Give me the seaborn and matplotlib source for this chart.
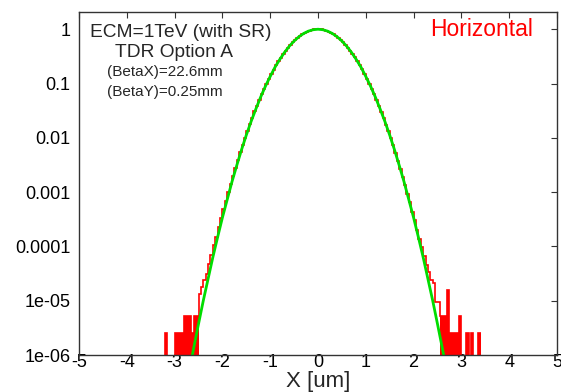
import numpy as np
import seaborn as sns
import matplotlib.pyplot as plt
from matplotlib.ticker import FixedLocator, FuncFormatter, NullLocator

# histogram of the beam profile (bin width 0.05 um), log10 of normalised counts
# -9 marks an empty bin
BIN_START = -3.30
BIN_WIDTH = 0.05
red_log = [
    -9, -9, -5.59, -9, -9, -9, -5.59, -5.59, -5.59, -5.59,
    -5.29, -5.29, -5.29, -5.59, -5.29, -5.29, -4.88, -4.75, -4.62, -4.50,
    -4.33, -4.15, -3.98, -3.82, -3.64, -3.48, -3.32, -3.16, -3.00, -2.85,
    -2.70, -2.55, -2.41, -2.27, -2.13, -2.00, -1.87, -1.75, -1.63, -1.515,
    -1.405, -1.30, -1.195, -1.097, -1.003, -0.912, -0.825, -0.742, -0.664, -0.590,
    -0.521, -0.456, -0.396, -0.339, -0.287, -0.239, -0.196, -0.157, -0.122, -0.092,
    -0.066, -0.044, -0.027, -0.014, -0.005, -0.001, 0.000, -0.005, -0.013, -0.027,
    -0.044, -0.066, -0.091, -0.122, -0.157, -0.195, -0.238, -0.286, -0.338, -0.395,
    -0.456, -0.520, -0.590, -0.663, -0.741, -0.824, -0.911, -1.002, -1.097, -1.196,
    -1.300, -1.408, -1.518, -1.635, -1.755, -1.88, -2.01, -2.14, -2.28, -2.42,
    -2.57, -2.72, -2.87, -3.03, -3.19, -3.36, -3.52, -3.69, -3.87, -4.02,
    -4.18, -4.35, -4.48, -4.62, -4.68, -5.02, -5.02, -5.29, -5.29, -5.29,
    -4.80, -5.59, -5.59, -5.59, -5.59, -5.29, -9, -9, -5.59, -9,
    -5.59, -9, -9, -5.59,
]

# gaussian fit
fit_x = [-2.7, -2.6, -2.5, -2.4, -2.3, -2.2, -2.1, -2.0, -1.9, -1.8,
         -1.7, -1.6, -1.5, -1.4, -1.3, -1.2, -1.1, -1.0, -0.9, -0.8,
         -0.7, -0.6, -0.5, -0.4, -0.3, -0.2, -0.1, 0.0, 0.1, 0.2,
         0.3, 0.4, 0.5, 0.6, 0.7, 0.8, 0.9, 1.0, 1.1, 1.2,
         1.3, 1.4, 1.5, 1.6, 1.7, 1.8, 1.9, 2.0, 2.1, 2.2,
         2.3, 2.4, 2.5, 2.6, 2.7]
fit_log = [-6.33, -5.87, -5.43, -5.00, -4.60, -4.20, -3.83, -3.47, -3.14, -2.81,
           -2.51, -2.22, -1.95, -1.70, -1.47, -1.25, -1.05, -0.87, -0.70, -0.556,
           -0.426, -0.313, -0.217, -0.139, -0.078, -0.035, -0.009, 0.0, -0.009, -0.035,
           -0.078, -0.139, -0.217, -0.313, -0.426, -0.556, -0.70, -0.87, -1.05, -1.25,
           -1.47, -1.70, -1.95, -2.22, -2.51, -2.81, -3.14, -3.47, -3.83, -4.20,
           -4.60, -5.00, -5.43, -5.87, -6.33]

x_ticks = [-5, -4, -3, -2, -1, 0, 1, 2, 3, 4, 5]
y_ticks = [1e-6, 1e-5, 1e-4, 1e-3, 1e-2, 1e-1, 1]

sns.set_theme(style="white")
plt.rcParams['font.family'] = ['Liberation Sans', 'DejaVu Sans']
plt.rcParams['axes.unicode_minus'] = False

W, H = 561, 392
fig = plt.figure(figsize=(W / 100, H / 100), dpi=100)
ax = fig.add_axes([79 / W, 1 - 355 / H, (557 - 79) / W, (355 - 12.3) / H])

red_vals = 10.0 ** np.array(red_log)
edges = BIN_START + BIN_WIDTH * np.arange(len(red_vals) + 1)

# the sparse tails look solid in the original, fill them down to the axis
ax.stairs(red_vals[:16], edges[:17], fill=True, baseline=1e-9,
          color='#ff0000', linewidth=0)
ax.stairs(red_vals[117:], edges[117:], fill=True, baseline=1e-9,
          color='#ff0000', linewidth=0)
ax.stairs(red_vals, edges, baseline=None, color='#ff0000', linewidth=1.2)

sns.lineplot(x=fit_x, y=10.0 ** np.array(fit_log), color='#00dd00',
             linewidth=2.0, ax=ax, sort=False)

ax.set_yscale('log')
ax.set_xlim(-5, 5)
ax.set_ylim(1e-6, 2.05)

ax.xaxis.set_major_locator(FixedLocator(x_ticks))
ax.xaxis.set_major_formatter(FuncFormatter(lambda v, _: f"{v:g}"))
ax.yaxis.set_major_locator(FixedLocator(y_ticks))
ax.yaxis.set_major_formatter(FuncFormatter(lambda v, _: f"{v:g}"))
ax.yaxis.set_minor_locator(NullLocator())
ax.xaxis.set_minor_locator(NullLocator())

ax.tick_params(axis='both', which='major', direction='in', length=4,
               width=0.8, colors='#333333', labelcolor='black',
               top=True, right=True, labelsize=13)
ax.tick_params(axis='x', pad=-1)
ax.tick_params(axis='y', pad=6)
for sp in ax.spines.values():
    sp.set_color('#333333')
    sp.set_linewidth(1.0)

ax.set_xlabel("X [um]", fontsize=16, va='baseline')
ax.xaxis.set_label_coords(0.5, (355 - 387) / 342.7)
ax.set_ylabel("")

ax.text(0.023, 0.929, "ECM=1TeV (with SR)", transform=ax.transAxes,
        fontsize=13.8, va='baseline', ha='left')
ax.text(0.0753, 0.871, "TDR Option A", transform=ax.transAxes,
        fontsize=13.8, va='baseline', ha='left')
ax.text(0.0592, 0.813, "(BetaX)=22.6mm", transform=ax.transAxes,
        fontsize=11, va='baseline', ha='left')
ax.text(0.0592, 0.755, "(BetaY)=0.25mm", transform=ax.transAxes,
        fontsize=11, va='baseline', ha='left')
ax.text(0.734, 0.931, "Horizontal", transform=ax.transAxes,
        fontsize=16.5, va='baseline', ha='left', color='#ff0000')

fig.savefig("out.png", dpi=100)
